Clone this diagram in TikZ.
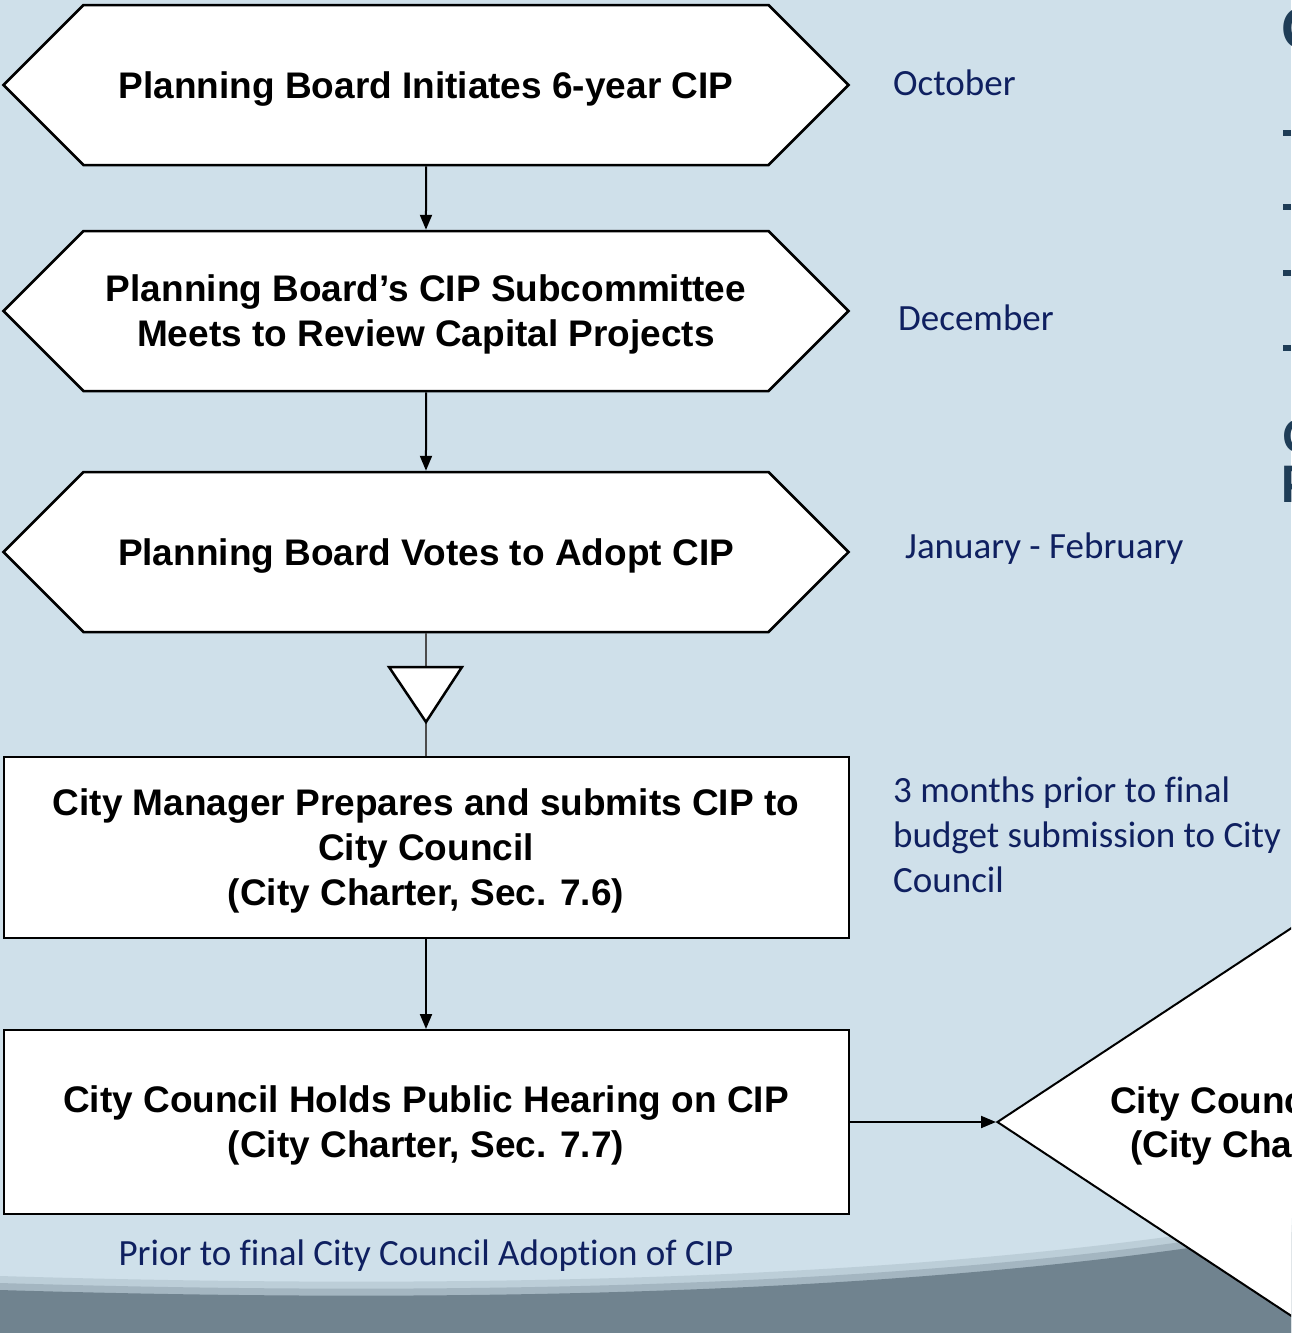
\documentclass[tikz,border=0pt]{standalone}
\usepackage{fontspec}
\setmainfont{Liberation Sans}
\newfontfamily\calibri[Ligatures=CommonOff]{Carlito}
\usetikzlibrary{shapes.symbols,shapes.geometric,arrows.meta}

\definecolor{bgblue}{HTML}{CFE0EA}
\definecolor{slate}{HTML}{70838F}
\definecolor{navytext}{HTML}{0F2060}
\definecolor{edgetext}{HTML}{1F3D57}

\tikzset{
  hexbox/.style={signal, signal to=west and east, signal pointer angle=90,
    draw, fill=white, line width=2.5pt, minimum width=845pt, minimum height=160pt,
    inner sep=0pt, text depth=0pt, align=center, font=\bfseries\fontsize{37}{45}\selectfont},
  stepbox/.style={rectangle, draw, fill=white, line width=2pt, minimum width=845pt,
    inner sep=0pt, text depth=0pt, align=center, font=\bfseries\fontsize{37}{45}\selectfont},
  when/.style={anchor=west, align=left, inner sep=0pt, text=navytext,
    font=\calibri\fontsize{37}{45}\selectfont},
  edgeglyph/.style={anchor=west, inner sep=0pt, text=edgetext, font=\calibri\bfseries},
  flow/.style={line width=2pt, -{Triangle[length=15pt,width=12pt]}},
}

\begin{document}
\begin{tikzpicture}[x=1pt,y=-1pt]
  \useasboundingbox (0,0) rectangle (1291,1333);
  \clip (0,0) rectangle (1291,1333);

  % background and the dark band at the bottom
  \fill[bgblue] (0,0) rectangle (1291,1333);
  \fill[slate!20!bgblue] (0,1276) .. controls (400,1288) and (900,1286) .. (1291,1218) -- (1291,1333) -- (0,1333) -- cycle;
  \fill[slate!45!bgblue] (0,1283) .. controls (400,1295) and (900,1293) .. (1291,1225) -- (1291,1333) -- (0,1333) -- cycle;
  \fill[slate] (0,1290) .. controls (400,1302) and (900,1300) .. (1291,1232) -- (1291,1333) -- (0,1333) -- cycle;

  % Planning Board steps
  \node[hexbox] (init) at (426,85) {Planning Board Initiates 6-year CIP};
  \node[hexbox] (review) at (426,311) {Planning Board’s CIP Subcommittee\\Meets to Review Capital Projects};
  \node[hexbox] (adopt) at (426,552) {Planning Board Votes to Adopt CIP};

  % City Manager and City Council steps
  \node[stepbox, minimum height=181pt] (submit) at (426,847.5)
    {City Manager Prepares and submits CIP to\\City Council\\(City Charter, Sec. 7.6)};
  \node[stepbox, minimum height=184pt] (hearing) at (426,1122)
    {City Council Holds Public Hearing on CIP\\(City Charter, Sec. 7.7)};
  \node[diamond, draw, fill=white, line width=2pt, inner sep=0pt,
    minimum width=900pt, minimum height=594pt] (council) at (1447,1122) {};
  \node[anchor=west, inner sep=0pt, font=\bfseries\fontsize{37}{45}\selectfont] (councila) at (1110,1104) {City Council};
  \node[anchor=west, inner sep=0pt, font=\bfseries\fontsize{37}{45}\selectfont] (councilb) at (1130,1148) {(City Charter};

  % connectors
  \draw[flow] (init) -- (review);
  \draw[flow] (review) -- (adopt);
  \draw[black!70, line width=1.2pt] (adopt) -- (submit);
  \draw[fill=white, line width=2.5pt, line join=miter] (389,667) -- (462,667) -- (426,722) -- cycle;
  \draw[flow] (submit) -- (hearing);
  \draw[flow] (hearing) -- (council);

  % timing notes
  \node[when] (oct) at (893,83) {October};
  \node[when] (dec) at (898,318) {December};
  \node[when] (janfeb) at (905,549) {January - February};
  \node[when] (months) at (893,835) {3 months prior to final\\budget submission to City\\Council};
  \node[when, anchor=center] (final) at (426,1256) {Prior to final City Council Adoption of CIP};

  % text running off the right edge
  \node[edgeglyph, font=\calibri\bfseries\fontsize{62}{62}\selectfont] (edgea) at (1282,28) {C};
  \foreach \y in {133,207,273,348}
    \fill[edgetext] (1283,\y-3) rectangle (1291,\y+3);
  \node[edgeglyph, font=\calibri\bfseries\fontsize{50}{50}\selectfont] (edgeb) at (1283,436) {C};
  \node[edgeglyph, font=\calibri\bfseries\fontsize{56}{56}\selectfont] (edgec) at (1281,484) {P};
\end{tikzpicture}
\end{document}
